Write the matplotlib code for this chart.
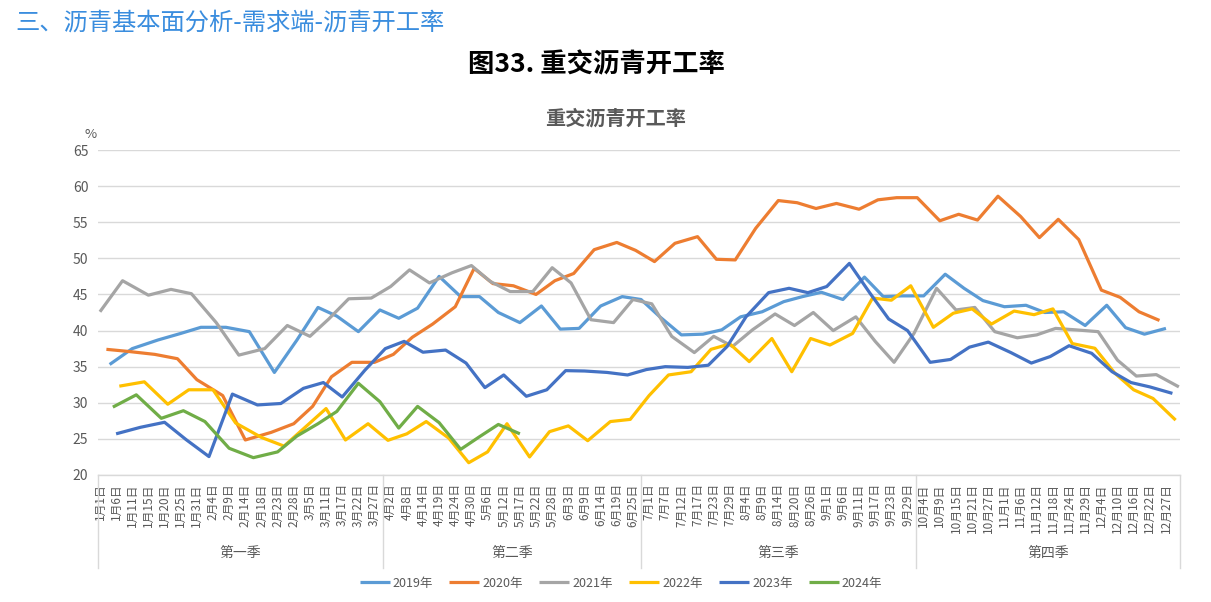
import matplotlib
matplotlib.use('Agg')
import matplotlib.pyplot as plt
import matplotlib.transforms as mtransforms
import numpy as np
import pandas as pd

plt.rcParams['font.family'] = ['Noto Sans CJK SC', 'DejaVu Sans']

# ---------------- data ----------------
category_labels = [
    '1月1日', '1月6日', '1月11日', '1月15日', '1月20日', '1月25日', '1月31日', '2月4日', '2月9日',
    '2月14日', '2月18日', '2月23日', '2月28日', '3月5日', '3月11日', '3月17日', '3月22日', '3月27日',
    '4月2日', '4月8日', '4月14日', '4月19日', '4月24日', '4月30日', '5月6日', '5月12日', '5月17日',
    '5月22日', '5月28日', '6月3日', '6月9日', '6月14日', '6月19日', '6月25日',
    '7月1日', '7月7日', '7月12日', '7月17日', '7月23日', '7月29日', '8月4日', '8月9日', '8月14日',
    '8月20日', '8月26日', '9月1日', '9月6日', '9月11日', '9月17日', '9月23日', '9月29日',
    '10月4日', '10月9日', '10月15日', '10月21日', '10月27日', '11月1日', '11月6日', '11月12日',
    '11月18日', '11月24日', '11月29日', '12月4日', '12月10日', '12月16日', '12月22日', '12月27日',
]
quarter_names = ['第一季', '第二季', '第三季', '第四季']
quarter_sizes = [18, 16, 17, 16]

series_names = ['2019年', '2020年', '2021年', '2022年', '2023年', '2024年']
first_dates = ['2019-01-04', '2020-01-03', '2021-01-01', '2022-01-07', '2023-01-06', '2024-01-05']

v2019 = [35.3, 37.5, 38.7, 39.6, 40.45, 40.45, 39.85, 34.2, 38.7, 43.2, 42.0, 39.85, 42.85,
         41.7, 43.1, 47.5, 44.7, 44.7, 42.5, 41.1, 43.4, 40.2, 40.3, 43.4, 44.7, 44.3, 41.9,
         39.4, 39.5, 40.1, 41.9, 42.6, 44.0, 44.7, 45.3, 44.3, 47.4, 44.7, 44.8, 44.8, 47.8,
         45.85, 44.15, 43.3, 43.5, 42.5, 42.6, 40.7, 43.5, 40.4, 39.5, 40.3]
v2020 = [37.4, 37.1, 36.7, 36.1, 33.2, 31.0, 24.85, 25.9, 27.1, 29.5, 33.6, 35.6, 35.6,
         36.7, 39.06, 40.9, 43.3, 48.6, 46.5, 46.2, 45.0, 46.9, 47.9, 51.2, 52.2, 51.1, 49.55,
         52.08, 53.0, 49.87, 49.78, 54.16, 58.0, 57.7, 56.9, 57.6, 56.8, 58.1, 58.4, 58.4, 55.2,
         56.1, 55.3, 58.6, 55.8, 52.87, 55.4, 52.6, 45.6, 44.6, 42.6, 41.4]
v2021 = [42.6, 46.9, 44.9, 45.7, 45.1, 41.1, 36.6, 37.5, 40.7, 39.2, 41.6, 44.4, 44.5,
         46.1, 48.4, 46.6, 48.0, 49.0, 46.8, 45.4, 45.4, 48.7, 46.6, 41.5, 41.1, 44.3, 43.7,
         39.2, 36.95, 39.2, 37.8, 40.1, 42.3, 40.7, 42.5, 40.0, 41.9, 38.5, 35.6, 39.6, 45.85,
         42.85, 43.2, 39.85, 39.0, 39.4, 40.3, 40.1, 39.85, 35.9, 33.7, 33.9, 32.2]
v2022 = [32.3, 32.9, 29.8, 31.8, 31.8, 27.2, 25.2, 24.0, 26.8, 29.2, 24.85, 27.1, 24.8,
         25.7, 27.4, 25.1, 21.7, 23.2, 27.1, 22.5, 26.0, 26.8, 24.75, 27.4, 27.7, 31.0, 33.85,
         34.3, 37.4, 38.15, 35.7, 38.9, 34.3, 38.9, 38.0, 39.6, 44.5, 44.2, 46.2, 40.45, 42.4,
         43.0, 40.9, 42.7, 42.2, 43.0, 38.2, 37.55, 34.1, 31.8, 30.6, 27.6]
v2023 = [25.7, 26.6, 27.3, 24.9, 22.55, 31.2, 29.7, 29.9, 32.0, 32.8, 30.8, 34.5, 37.5,
         38.5, 37.0, 37.3, 35.5, 32.1, 33.85, 30.9, 31.8, 34.45, 34.4, 34.2, 33.85, 34.6, 35.0,
         34.9, 35.2, 37.8, 41.9, 45.25, 45.85, 45.25, 46.1, 49.3, 45.2, 41.6, 40.0, 35.6, 36.0,
         37.7, 38.4, 36.95, 35.5, 36.4, 37.9, 36.85, 34.3, 32.8, 32.2, 31.3]
v2024 = [29.4, 31.1, 27.85, 28.9, 27.4, 23.7, 22.4, 23.2, 25.4, 27.1, 28.8, 32.7, 30.15,
         26.5, 29.5, 27.25, 23.55, 25.3, 27.0, 25.7]

series_values = [v2019, v2020, v2021, v2022, v2023, v2024]
colors = ['#5B9BD5', '#ED7D31', '#A5A5A5', '#FFC000', '#4472C4', '#70AD47']

# ---------------- positions (weekly dates mapped onto the category axis) ----------------
def md_doy(m, d):
    return pd.Timestamp(2021, m, d).dayofyear

label_doy = []
for lab in category_labels:
    m, rest = lab.split('月')
    label_doy.append(md_doy(int(m), int(rest.rstrip('日'))))
interp_doy = np.array(label_doy + [366])
interp_idx = np.arange(len(category_labels) + 1)

def positions(start, n):
    dates = pd.date_range(start, periods=n, freq='7D')
    doys = np.array([md_doy(d.month, d.day) for d in dates])
    return np.interp(doys, interp_doy, interp_idx)

# ---------------- figure ----------------
W, H = 1211, 602
fig = plt.figure(figsize=(W / 100, H / 100), dpi=100)
ax_l, ax_r, ax_t, ax_b = 98, 1180, 150, 475
ax = fig.add_axes([ax_l / W, 1 - ax_b / H, (ax_r - ax_l) / W, (ax_b - ax_t) / H])

for name, start, vals, col in zip(series_names, first_dates, series_values, colors):
    ax.plot(positions(start, len(vals)), vals, color=col, lw=2.3, label=name,
            solid_joinstyle='round', solid_capstyle='butt', zorder=3)

ax.set_xlim(-0.12, 66.87)
ax.set_ylim(20, 65)
ax.set_yticks(np.arange(20, 66, 5))
ax.yaxis.grid(True, color='#D9D9D9', lw=1.0, zorder=0)
for s in ['top', 'right', 'left']:
    ax.spines[s].set_visible(False)
ax.spines['bottom'].set_color('#D9D9D9')
ax.spines['bottom'].set_linewidth(1.0)
ax.tick_params(axis='y', length=0, pad=7, labelsize=10, labelcolor='#595959')
ax.set_xticks(np.arange(len(category_labels)))
ax.set_xticklabels(category_labels, rotation=90, fontsize=8.5, color='#595959')
ax.tick_params(axis='x', length=0, pad=6)

# quarter separators and labels
trans = mtransforms.blended_transform_factory(ax.transData, ax.transAxes)
bounds = [-0.12]
acc = 0
for q in quarter_sizes[:-1]:
    acc += q
    bounds.append(acc - 0.5)
bounds.append(66.87)
sep_bottom = -(568 - ax_b) / (ax_b - ax_t)
for b in bounds:
    ax.plot([b, b], [0, sep_bottom], transform=trans, color='#D9D9D9', lw=1.0, clip_on=False)
qlab_y = -(553 - ax_b) / (ax_b - ax_t)
for i, qn in enumerate(quarter_names):
    ax.text((bounds[i] + bounds[i + 1]) / 2, qlab_y, qn, transform=trans, ha='center', va='center',
            fontsize=10, color='#595959')

# titles
fig.text(15 / W, 1 - 23 / H, '三、沥青基本面分析-需求端-沥青开工率', fontsize=17.5, color='#3A8DDE',
         ha='left', va='center')
fig.text(596 / W, 1 - 65 / H, '图33. 重交沥青开工率', fontsize=19, fontweight='bold', color='black',
         ha='center', va='center')
fig.text(616 / W, 1 - 118 / H, '重交沥青开工率', fontsize=14.5, fontweight='bold', color='#595959',
         ha='center', va='center')
fig.text(91 / W, 1 - 135 / H, '%', fontsize=9.5, color='#595959', ha='center', va='center')

fig.legend(loc='center', bbox_to_anchor=(621 / W, 1 - 583 / H), ncol=6, frameon=False,
           fontsize=9, handlelength=2.4, handletextpad=0.25, columnspacing=1.3,
           labelcolor='#595959')

fig.savefig('out.png', dpi=100)
